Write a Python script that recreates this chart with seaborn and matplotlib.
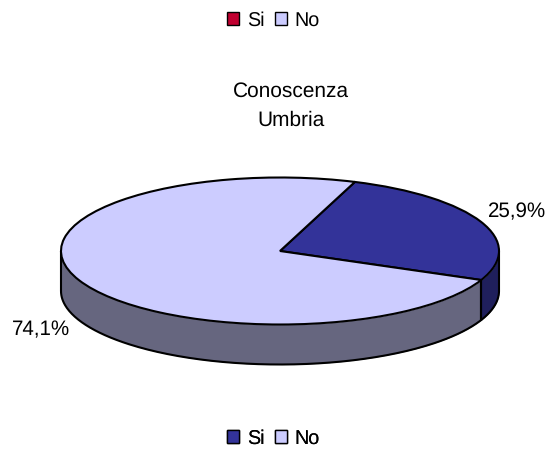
import numpy as np
import matplotlib
matplotlib.use("Agg")
import matplotlib.pyplot as plt
from matplotlib.patches import Patch
import seaborn as sns

categories = ["Si", "No"]
shares = [25.9, 74.1]
labels = ["25,9%", "74,1%"]
title_lines = "Conoscenza\nUmbria"
slice_colors = ["#333399", "#CCCCFF"]
wall_colors = ["#1F1F5C", "#66667F"]
upper_legend_colors = ["#C00030", "#CCCCFF"]
lower_legend_colors = ["#333399", "#CCCCFF"]

sns.set_theme(style="white")
plt.rcParams["font.family"] = ["Liberation Sans", "DejaVu Sans"]
plt.rcParams["text.hinting"] = "none"
FONT = 14.8
W, H = 550, 449
CX, CY, RX, RY, DEPTH = 280, 251, 219, 73.5, 40
START = 70.0
EDGE = 1.5

fig = plt.figure(figsize=(W / 100, H / 100), dpi=100, facecolor="white")
ax = fig.add_axes([0, 0, 1, 1])

wedges, _ = ax.pie(shares, colors=slice_colors, startangle=START, counterclock=False,
                   radius=1, wedgeprops={"edgecolor": "black", "linewidth": EDGE, "zorder": 3})
ax.set_aspect("auto")
ax.set_xlim(-CX / RX, (W - CX) / RX)
ax.set_ylim(-(H - CY) / RY, CY / RY)
ax.axis("off")

# Side walls: only the front half of the disc (180..360 degrees) is visible.
wall = DEPTH / RY
edges = START - np.cumsum([0] + shares) * 3.6
boundary = edges[1] % 360
spans = [(boundary, 360.0), (180.0, boundary)]
for (a0, a1), col in zip(spans, wall_colors):
    t = np.radians(np.linspace(a0, a1, 200))
    x, y = np.cos(t), np.sin(t)
    ax.fill_between(x, y - wall, y, color=col, lw=0, zorder=1)
    ax.plot(x, y - wall, color="black", lw=EDGE, zorder=2)
    ax.plot([x[0], x[0]], [y[0], y[0] - wall], color="black", lw=EDGE, zorder=2)
    ax.plot([x[-1], x[-1]], [y[-1], y[-1] - wall], color="black", lw=EDGE, zorder=2)

fig.text(291 / W, 1 - 106 / H, title_lines, ha="center", va="center", fontsize=15,
         color="black", linespacing=1.65)
fig.text(517 / W, 1 - 212 / H, labels[0], ha="center", va="center", fontsize=FONT, color="black")
fig.text(41 / W, 1 - 330 / H, labels[1], ha="center", va="center", fontsize=FONT, color="black")

def add_legend(colors, ypx):
    handles = [Patch(facecolor=c, edgecolor="black", linewidth=1.0) for c in colors]
    leg = ax.legend(handles, categories, loc="center", ncol=2, frameon=False,
                    bbox_to_anchor=(273.5 / W, 1 - ypx / H), bbox_transform=fig.transFigure,
                    fontsize=14.2, handlelength=0.6, handleheight=0.6, handletextpad=0.4,
                    columnspacing=0.55, borderpad=0, borderaxespad=0, labelcolor="black")
    ax.add_artist(leg)

add_legend(upper_legend_colors, 20.5)
add_legend(lower_legend_colors, 438.5)

fig.savefig("out.png", dpi=100, facecolor="white")
